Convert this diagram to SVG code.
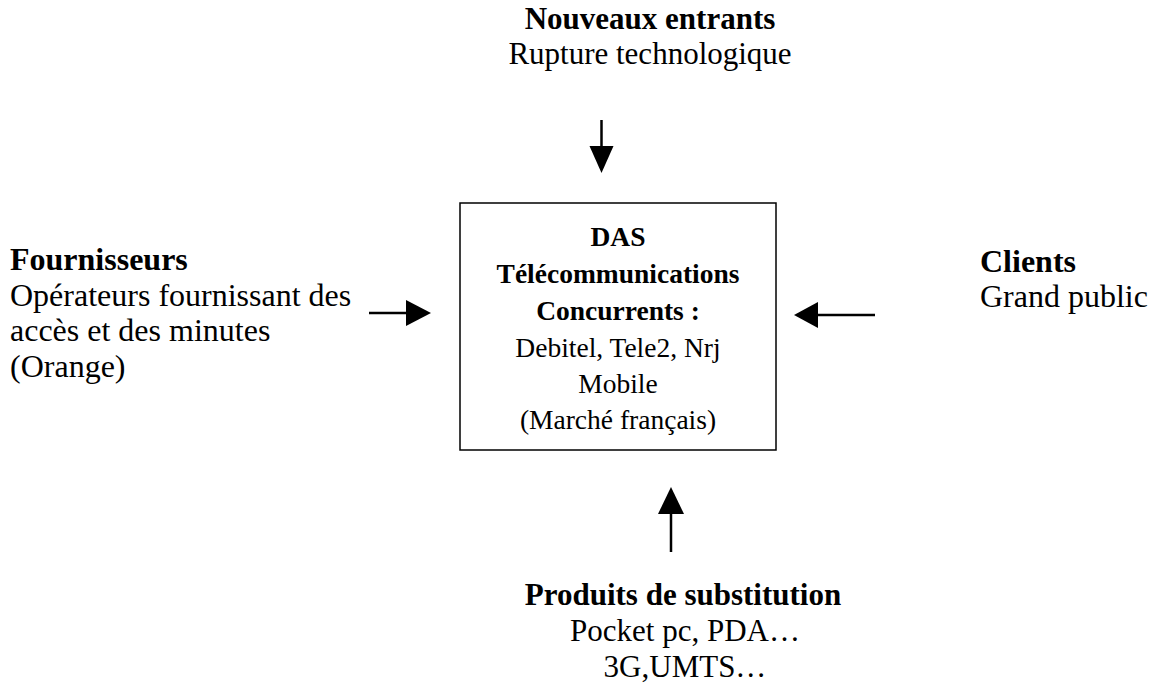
<svg xmlns="http://www.w3.org/2000/svg" width="1166" height="684" viewBox="0 0 1166 684">
<style>
text{font-family:"Liberation Serif","Times New Roman",serif;fill:#000}
.o{font-size:31px}
.s{font-size:32px}
.b{font-weight:bold}
.m{text-anchor:middle}
.in{font-size:27.5px}
.ln{stroke:#000;stroke-width:2.5;fill:none}
.hd{fill:#000;stroke:none}
</style>
<rect width="1166" height="684" fill="#fff"/>
<g id="top">
<text class="o b m" x="650" y="29">Nouveaux entrants</text>
<text class="o m" x="650" y="64">Rupture technologique</text>
</g>
<g id="left">
<text class="s b" x="10" y="270">Fournisseurs</text>
<text class="s" x="10" y="306">Opérateurs fournissant des</text>
<text class="s" x="10" y="341">accès et des minutes</text>
<text class="s" x="10" y="377">(Orange)</text>
</g>
<g id="right">
<text class="s b" x="980" y="272">Clients</text>
<text class="s" x="980" y="307">Grand public</text>
</g>
<g id="center">
<rect x="460" y="203" width="316" height="247" fill="none" stroke="#000" stroke-width="1.5"/>
<text class="in b m" x="618" y="246">DAS</text>
<text class="in b m" x="618" y="283">Télécommunications</text>
<text class="in b m" x="618" y="320">Concurrents :</text>
<text class="in m" x="618" y="357">Debitel, Tele2, Nrj</text>
<text class="in m" x="618" y="393">Mobile</text>
<text class="in m" x="618" y="429">(Marché français)</text>
</g>
<g id="bottom">
<text class="o b m" x="683" y="605">Produits de substitution</text>
<text class="o m" x="685" y="641">Pocket pc, PDA…</text>
<text class="o m" x="685" y="677">3G,UMTS…</text>
</g>
<g id="connectors">
<line class="ln" x1="601.5" y1="120" x2="601.5" y2="148"/>
<polygon class="hd" points="589.5,146 613.5,146 601.5,173"/>
<line class="ln" x1="369" y1="313" x2="408" y2="313"/>
<polygon class="hd" points="406,300 406,326 431,313"/>
<line class="ln" x1="816" y1="315" x2="875" y2="315"/>
<polygon class="hd" points="818,302 818,328 794,315"/>
<line class="ln" x1="671" y1="512" x2="671" y2="552"/>
<polygon class="hd" points="658,514 684,514 671,487"/>
</g>
</svg>
